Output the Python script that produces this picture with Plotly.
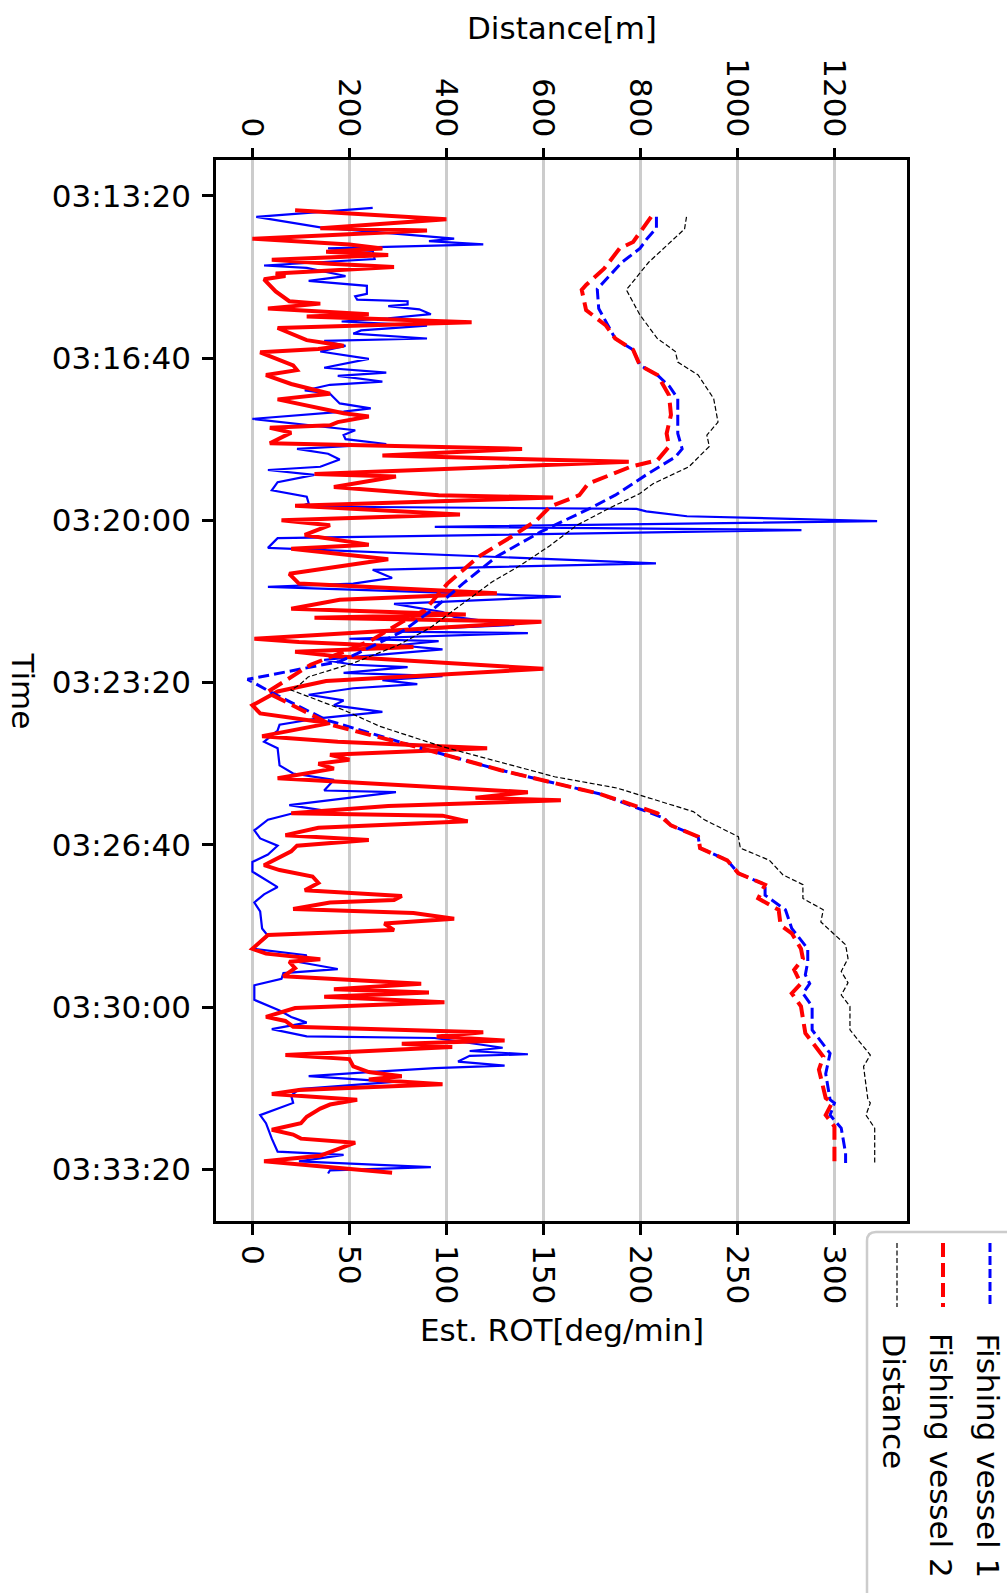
import pandas as pd
import plotly.graph_objects as go

BASE = pd.Timestamp("2019-01-01 03:13:20")

# ---- Est. ROT (deg/min), solid lines: time offset (s from 03:13:20), value ----
v1_rot_t = [15, 26, 39, 53, 56, 60, 65, 68, 78, 86, 89, 99, 105, 111, 121, 124, 128, 130, 134, 136,
            140, 146, 151, 155, 160, 166, 170, 176, 179, 185, 192, 197, 201, 212, 218, 222, 229, 233, 240, 244,
            256, 262, 266, 275, 289, 295, 300, 306, 312, 318, 325, 334, 338, 344, 353, 363, 371, 379, 383, 386,
            389, 395, 401, 408, 412, 422, 434, 453, 461, 471, 478, 482, 494, 503, 513, 519, 529, 537, 539, 546,
            549, 554, 559, 568, 572, 578, 581, 588, 592, 597, 602, 607, 615, 622, 628, 636, 644, 652, 659, 673,
            681, 702, 712, 720, 733, 735, 742, 751, 758, 761, 769, 782, 792, 801, 812, 821, 833, 852, 861, 871,
            882, 903, 912, 928, 936, 944, 953, 958, 965, 973, 991, 1004, 1012, 1019, 1027, 1036, 1038, 1050, 1054, 1058,
            1060, 1067, 1072, 1075, 1080, 1085, 1092, 1101, 1109, 1118, 1133, 1143, 1162, 1178, 1182, 1190, 1197, 1201, 1205]
v1_rot = [62, 2, 35, 104, 91, 119, 39, 62, 63, 6, 28, 48, 29, 59, 59, 53, 54, 80, 80, 70,
          86, 92, 70, 46, 90, 56, 52, 90, 37, 48, 35, 50, 60, 37, 69, 44, 67, 40, 27, 40,
          45, 61, 47, 0, 53, 47, 48, 69, 23, 39, 45, 35, 8, 32, 13, 10, 28, 29, 25, 198,
          203, 224, 322, 94, 283, 13, 8, 208, 62, 72, 52, 8, 159, 73, 98, 104, 135, 60, 142, 50,
          96, 75, 98, 54, 37, 52, 80, 47, 98, 67, 85, 52, 29, 47, 42, 67, 34, 14, 13, 6,
          13, 14, 21, 42, 37, 74, 50, 19, 38, 21, 8, 1, 4, 13, 8, 0, 0, 13, 6, 1,
          4, 5, 8, 0, 28, 23, 44, 16, 15, 1, 1, 14, 20, 28, 10, 28, 94, 129, 112, 142,
          112, 106, 130, 94, 60, 29, 73, 24, 20, 21, 4, 7, 10, 13, 47, 24, 92, 40, 39]

v2_rot_t = [18, 29, 40, 43, 53, 60, 65, 69, 73, 79, 84, 88, 96, 99, 103, 118, 130, 133, 139, 146,
            149, 156, 163, 170, 178, 185, 189, 193, 209, 215, 221, 232, 244, 251, 260, 268, 272, 279, 283, 286,
            292, 305, 312, 320, 328, 343, 346, 359, 369, 372, 382, 393, 400, 406, 418, 430, 435, 448, 466, 478,
            490, 498, 509, 516, 520, 525, 546, 550, 556, 562, 568, 583, 598, 611, 628, 638, 650, 666, 673, 681,
            689, 695, 700, 706, 718, 735, 742, 745, 752, 761, 764, 771, 779, 788, 794, 801, 808, 825, 831, 839,
            847, 856, 863, 868, 871, 879, 884, 891, 897, 905, 911, 928, 934, 941, 944, 952, 962, 971, 978, 982,
            987, 994, 1001, 1012, 1017, 1024, 1031, 1036, 1041, 1045, 1049, 1059, 1064, 1073, 1080, 1085, 1089, 1095, 1102, 1107,
            1114, 1120, 1125, 1135, 1143, 1151, 1157, 1162, 1167, 1176, 1183, 1190, 1204]
v2_rot = [22, 100, 35, 90, 0, 50, 67, 38, 70, 10, 40, 73, 12, 17, 6, 12, 19, 35, 8, 60,
          28, 113, 13, 20, 28, 47, 34, 4, 21, 23, 7, 20, 40, 13, 30, 47, 60, 44, 40, 9,
          20, 9, 139, 67, 194, 32, 74, 42, 96, 155, 22, 107, 15, 40, 27, 60, 20, 70, 19, 24,
          126, 45, 20, 110, 32, 149, 1, 24, 83, 22, 45, 150, 38, 13, 0, 4, 40, 5, 44, 121,
          40, 50, 34, 42, 13, 142, 115, 159, 70, 20, 98, 111, 34, 17, 60, 23, 20, 6, 14, 31,
          34, 27, 77, 73, 40, 21, 83, 104, 68, 73, 8, 0, 7, 35, 19, 22, 16, 87, 42, 91,
          37, 99, 22, 7, 17, 21, 119, 95, 130, 77, 103, 17, 50, 52, 60, 77, 60, 98, 24, 10,
          54, 40, 35, 28, 25, 10, 21, 25, 53, 43, 35, 6, 72]

# ---- Distance series (m), dashed / dotted lines ----
v1_dist_t = [26, 40, 52, 65, 82, 105, 115, 139, 160, 176, 190, 209, 221, 235, 250, 272, 293, 312, 322, 342,
             355, 369, 385, 414, 445, 478, 509, 537, 564, 574, 596, 613, 646, 679, 708, 737, 767, 776, 790, 804,
             819, 835, 849, 862, 880, 903, 928, 944, 960, 971, 983, 999, 1028, 1057, 1082, 1114, 1118, 1133, 1149, 1180, 1192]
v1_dist = [833, 833, 815, 799, 762, 725, 711, 714, 734, 748, 785, 799, 835, 860, 877, 877, 877, 886, 872, 817,
           785, 748, 697, 595, 503, 434, 374, 309, 217, 180, -10, 42, 152, 337, 512, 715, 849, 863, 919, 923,
           979, 1002, 1057, 1057, 1099, 1112, 1145, 1145, 1140, 1149, 1135, 1154, 1154, 1191, 1182, 1191, 1200, 1191, 1214, 1223, 1223]

v2_dist_t = [26, 57, 65, 90, 110, 116, 141, 160, 176, 190, 209, 221, 246, 270, 293, 309, 326, 334, 355, 369,
             383, 400, 418, 445, 478, 511, 525, 548, 564, 578, 612, 638, 652, 679, 708, 737, 761, 776, 790, 804,
             819, 835, 849, 866, 880, 899, 909, 928, 940, 954, 971, 983, 999, 1032, 1061, 1077, 1112, 1118, 1133, 1147, 1190]
v2_dist = [822, 785, 757, 725, 688, 679, 688, 729, 748, 785, 799, 835, 859, 863, 854, 859, 835, 780, 692, 674,
           614, 586, 540, 466, 402, 355, 309, 245, 180, 120, 30, 115, 162, 337, 512, 715, 835, 863, 919, 923,
           979, 1002, 1057, 1043, 1085, 1089, 1112, 1131, 1135, 1117, 1131, 1112, 1131, 1140, 1177, 1168, 1182, 1195, 1182, 1200, 1200]

dist_t = [26, 41, 82, 116, 147, 176, 192, 205, 221, 250, 279, 295, 309, 334, 355, 367, 383, 406, 431, 455,
          476, 500, 533, 554, 576, 593, 603, 609, 634, 654, 679, 716, 730, 759, 769, 790, 804, 819, 837, 849,
          866, 880, 895, 923, 940, 956, 970, 985, 999, 1028, 1059, 1073, 1114, 1118, 1133, 1149, 1192]
dist = [895, 891, 817, 771, 799, 835, 872, 877, 919, 951, 960, 937, 942, 900, 826, 799, 743, 669, 614, 554,
        494, 439, 365, 300, 208, 115, 97, 79, 189, 263, 392, 623, 752, 909, 932, 1002, 1006, 1066, 1094, 1135,
        1135, 1177, 1172, 1223, 1228, 1214, 1228, 1214, 1232, 1232, 1274, 1260, 1269, 1274, 1265, 1283, 1283]

rot_ticks = [0, 50, 100, 150, 200, 250, 300]
dist_ticks = [0, 200, 400, 600, 800, 1000, 1200]
time_tick_secs = [0, 200, 400, 600, 800, 1000, 1200]
legend_labels = ["Fishing vessel 1", "Fishing vessel 2", "Distance"]


def tt(secs):
    return [BASE + pd.Timedelta(seconds=s) for s in secs]


FONT = "DejaVu Sans"
FS = 31
W, H = 1007, 1593
L, R, T, B = 216, 907, 160, 1221
PW, PH = R - L, B - T


def px(X):
    return (X - L) / PW


def py(Y):
    return (B - Y) / PH


fig = go.Figure()
fig.add_trace(go.Scatter(x=v1_rot, y=tt(v1_rot_t), mode="lines", xaxis="x", yaxis="y",
                         line=dict(color="#0000ff", width=2.2), showlegend=False))
fig.add_trace(go.Scatter(x=v2_rot, y=tt(v2_rot_t), mode="lines", xaxis="x", yaxis="y",
                         line=dict(color="#ff0000", width=4), showlegend=False))
fig.add_trace(go.Scatter(x=v1_dist, y=tt(v1_dist_t), mode="lines", xaxis="x2", yaxis="y",
                         line=dict(color="#0000ff", width=3, dash="11px,5px"), showlegend=False))
fig.add_trace(go.Scatter(x=v2_dist, y=tt(v2_dist_t), mode="lines", xaxis="x2", yaxis="y",
                         line=dict(color="#ff0000", width=4, dash="16px,7px"), showlegend=False))
fig.add_trace(go.Scatter(x=dist, y=tt(dist_t), mode="lines", xaxis="x2", yaxis="y",
                         line=dict(color="#000000", width=1.2, dash="5px,2.5px"), showlegend=False))

rot_range = [-18.76, 337.4]
tickfont = dict(family=FONT, size=FS, color="black")

fig.update_layout(
    width=W, height=H,
    margin=dict(l=L, r=W - R, t=T, b=H - B, pad=0),
    paper_bgcolor="white", plot_bgcolor="white",
    font=dict(family=FONT, size=FS, color="black"),
    showlegend=False,
    xaxis=dict(range=rot_range, tickmode="array", tickvals=rot_ticks,
               ticktext=[str(v) for v in rot_ticks], tickangle=90,
               ticks="outside", ticklen=11, tickwidth=2.5, tickcolor="black",
               tickfont=tickfont, ticklabelstandoff=4,
               showgrid=True, gridcolor="#cccccc", gridwidth=2.5, zeroline=False,
               showline=True, linecolor="black", linewidth=2.5, mirror=True),
    xaxis2=dict(range=[rot_range[0] * 4, rot_range[1] * 4], overlaying="x", side="top", anchor="y",
                tickmode="array", tickvals=dist_ticks, ticktext=[str(v) for v in dist_ticks],
                tickangle=90, ticks="outside", ticklen=11, tickwidth=2.5, tickcolor="black",
                tickfont=tickfont, ticklabelstandoff=0,
                showgrid=False, zeroline=False, showline=False),
    yaxis=dict(type="date",
               range=[BASE + pd.Timedelta(seconds=1263.5), BASE - pd.Timedelta(seconds=44)],
               tickmode="array", tickvals=tt(time_tick_secs),
               ticktext=[t.strftime("%H:%M:%S") for t in tt(time_tick_secs)],
               ticks="outside", ticklen=11, tickwidth=2.5, tickcolor="black",
               tickfont=tickfont, ticklabelstandoff=5,
               showgrid=False, zeroline=False,
               showline=True, linecolor="black", linewidth=2.5, mirror=True),
)

ann = []
ann.append(dict(text="Distance[m]", x=px(561.5), y=py(28), xref="paper", yref="paper",
                xanchor="center", yanchor="middle", showarrow=False, font=dict(family=FONT, size=FS)))
ann.append(dict(text="Est. ROT[deg/min]", x=px(561.5), y=py(1330), xref="paper", yref="paper",
                xanchor="center", yanchor="middle", showarrow=False, font=dict(family=FONT, size=FS)))
ann.append(dict(text="Time", x=px(22.5), y=py(691), xref="paper", yref="paper", textangle=90,
                xanchor="center", yanchor="middle", showarrow=False, font=dict(family=FONT, size=FS)))

# legend box (rounded top-left corner), partly outside the figure
x0, y0, x1, y1, r = 867, 1232, 1030, 1620, 9
path = (f"M {px(x0)},{py(y1)} L {px(x0)},{py(y0 + r)} Q {px(x0)},{py(y0)} {px(x0 + r)},{py(y0)} "
        f"L {px(x1)},{py(y0)} L {px(x1)},{py(y1)} Z")
shapes = [dict(type="path", path=path, xref="paper", yref="paper",
               line=dict(color="#cccccc", width=2.5), fillcolor="white", layer="above")]

leg_styles = [("#0000ff", 3, "9px,4px", 990, 988),
              ("#ff0000", 4, "14px,6px", 943, 941.5),
              ("#000000", 1.2, "5px,2.5px", 897, 893.5)]
for (col, wdt, dsh, lx, tx), lab in zip(leg_styles, legend_labels):
    shapes.append(dict(type="line", xref="paper", yref="paper", x0=px(lx), x1=px(lx),
                       y0=py(1243), y1=py(1307), line=dict(color=col, width=wdt, dash=dsh), layer="above"))
    ann.append(dict(text=lab, x=px(tx), y=py(1331), xref="paper", yref="paper", textangle=90,
                    xanchor="center", yanchor="top", showarrow=False, font=dict(family=FONT, size=FS)))

fig.update_layout(annotations=ann, shapes=shapes)
fig.write_html("out.html")
